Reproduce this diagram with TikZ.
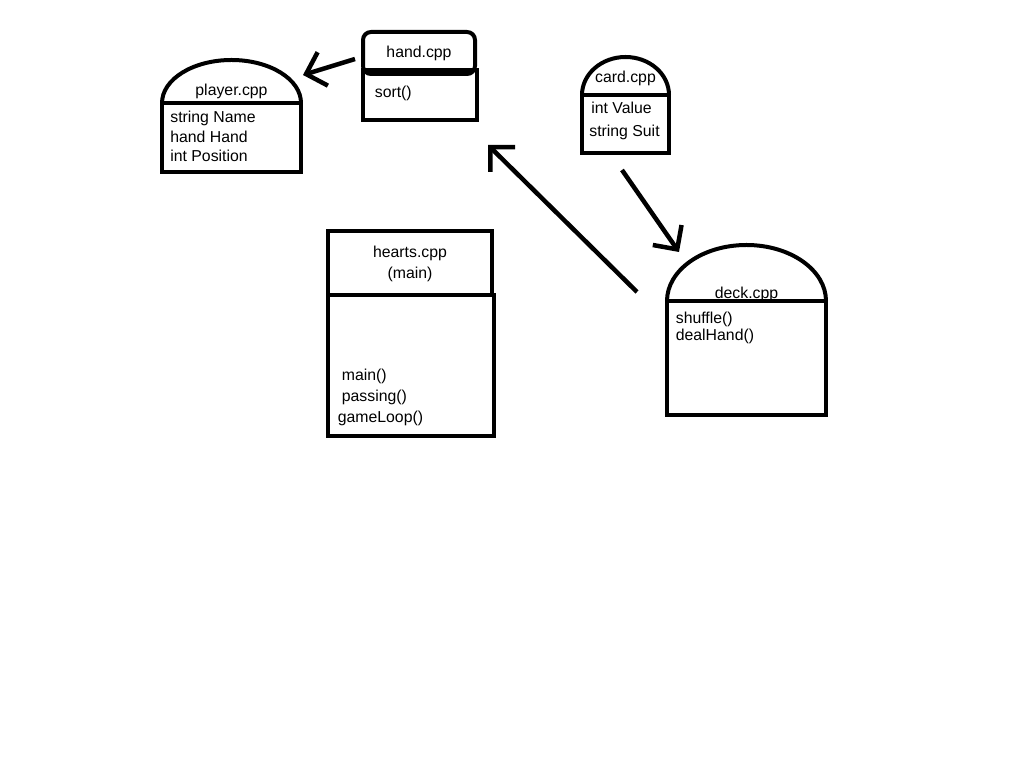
\documentclass[tikz,border=0pt]{standalone}
\usepackage{fontspec}
\setmainfont{Liberation Sans}
\usetikzlibrary{positioning,arrows.meta}

\begin{document}
\begin{tikzpicture}[x=0.2mm,y=-0.2mm,font=\fontsize{9}{11}\selectfont,
	box/.style={draw, line width=0.8mm, inner sep=0pt, outer sep=0pt, anchor=north west, align=center},
	title/.style={inner sep=0pt, align=center},
	members/.style={inner sep=0pt, align=left},
	dome/.style={line width=0.8mm},
	arrow/.style={line width=0.9mm, -{Straight Barb[length=3.5mm,width=7mm]}}]

	\path[use as bounding box, fill=white] (0,0) rectangle (1024,768);

	% player
	\node[box, minimum width=27.8mm, minimum height=13.8mm] (playerbody) at (162,103) {};
	\node[title] (player) [above=0.8mm of playerbody] {player.cpp};
	\draw[dome] (playerbody.north west) arc[start angle=180, end angle=0, x radius=13.9mm, y radius=8.6mm];
	\node[members] (playerfields) [below right=1.6mm and 1.6mm of playerbody.north west] {string Name\\hand Hand\\int Position};

	% hand
	\node[box, minimum width=22.8mm, minimum height=10mm] (handbody) at (363,70) {};
	\node[box, rounded corners=1.6mm, minimum width=22.4mm, minimum height=8.4mm] (hand) at (363,32) {hand.cpp};
	\node[members] (handfields) [below right=3.1mm and 2.3mm of handbody.north west] {sort()};

	% card
	\node[box, minimum width=17.4mm, minimum height=11.6mm] (cardbody) at (582,95) {};
	\node[title] (card) [above=1.7mm of cardbody] {card.cpp};
	\draw[dome] (cardbody.north west) arc[start angle=180, end angle=0, x radius=8.7mm, y radius=7.6mm];
	\node[members] (cardfields) [below right=1.4mm and 1.4mm of cardbody.north west] {\hspace*{0.4mm}int Value\\[2pt]string Suit};

	% hearts
	\node[box, minimum width=32.8mm, minimum height=12.8mm] (hearts) at (328,231) {};
	\node[title] (heartstitle) [below=3mm of hearts.north] {hearts.cpp\\[0.5pt](main)};
	\node[box, minimum width=33.2mm, minimum height=28.2mm] (heartsbody) at (328,295) {};
	\node[members] (heartsfuncs) [above right=2mm and 1.9mm of heartsbody.south west] {\hspace*{0.8mm}main()\\[1pt]\hspace*{0.8mm}passing()\\[1pt]gameLoop()};

	% deck
	\node[box, minimum width=31.8mm, minimum height=22.8mm] (deckbody) at (667,301) {};
	\node[title] (deck) [above=-0.2mm of deckbody] {deck.cpp};
	\draw[dome] (deckbody.north west) arc[start angle=180, end angle=0, x radius=15.9mm, y radius=11.2mm];
	\node[members] (deckfuncs) [below right=2.1mm and 1.7mm of deckbody.north west] {shuffle()\\[-1.4pt]dealHand()};

	% arrows
	\coordinate (handtail) at (355,59);
	\coordinate (playerhead) at (303,75);
	\coordinate (decktail) at (637,292);
	\coordinate (handhead) at (488,145);
	\coordinate (cardtail) at (622,170);
	\coordinate (deckhead) at (679,252);

	\draw[arrow] (handtail) -- (playerhead);
	\draw[arrow] (decktail) -- (handhead);
	\draw[arrow] (cardtail) -- (deckhead);

\end{tikzpicture}
\end{document}
